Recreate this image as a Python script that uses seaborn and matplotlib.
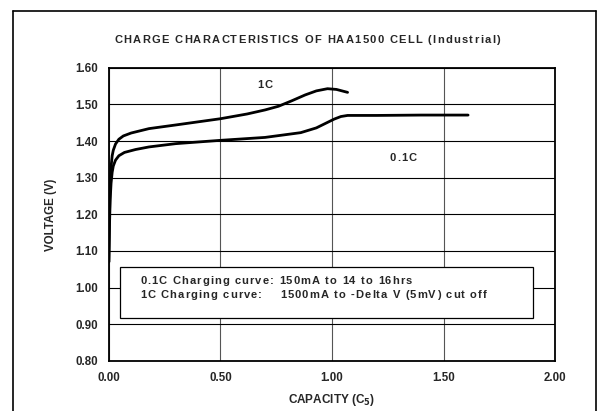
import pandas as pd
import matplotlib.pyplot as plt
import seaborn as sns
from matplotlib.lines import Line2D
from matplotlib.patches import Rectangle
from matplotlib.transforms import offset_copy

# ============ Dataset ============
cap_1c = [0.0, 0.003, 0.006, 0.01, 0.015, 0.02, 0.03, 0.045, 0.065, 0.10, 0.18, 0.30,
          0.50, 0.62, 0.70, 0.76, 0.82, 0.88, 0.93, 0.98, 1.02, 1.07]
volt_1c = [1.07, 1.20, 1.28, 1.33, 1.36, 1.375, 1.392, 1.405, 1.414, 1.422, 1.434, 1.444,
           1.461, 1.474, 1.485, 1.495, 1.510, 1.526, 1.537, 1.543, 1.541, 1.533]

cap_01c = [0.0, 0.003, 0.006, 0.01, 0.015, 0.02, 0.03, 0.045, 0.07, 0.12, 0.18, 0.30,
           0.50, 0.70, 0.86, 0.93, 0.97, 1.01, 1.04, 1.07, 1.20, 1.40, 1.61]
volt_01c = [1.07, 1.17, 1.24, 1.285, 1.315, 1.332, 1.348, 1.360, 1.369, 1.377, 1.384, 1.393,
            1.402, 1.410, 1.423, 1.436, 1.448, 1.460, 1.467, 1.470, 1.470, 1.471, 1.471]

rate_labels = ['1C', '0.1C']
note_lines = ['0.1C Charging curve: 150mA to 14 to 16hrs',
              '1C Charging curve:    1500mA to -Delta V (5mV) cut off']
title = 'CHARGE CHARACTERISTICS OF HAA1500 CELL (Industrial)'

curves = pd.concat([
    pd.DataFrame({'Capacity': cap_1c, 'Voltage': volt_1c, 'Rate': rate_labels[0]}),
    pd.DataFrame({'Capacity': cap_01c, 'Voltage': volt_01c, 'Rate': rate_labels[1]}),
])

# ============ Style ============
sns.set_style('white')
plt.rcParams['font.family'] = ['Liberation Sans', 'DejaVu Sans']
plt.rcParams['font.weight'] = 'bold'

fig = plt.figure(figsize=(6.08, 4.11), dpi=100)
ax = fig.add_axes([0.179, 0.122, 0.734, 0.713])
renderer = fig.canvas.get_renderer()


def char_width(ch, size):
    t1 = fig.text(0, 0, '|' + ch + '|', fontsize=size, fontweight='bold')
    t2 = fig.text(0, 0, '||', fontsize=size, fontweight='bold')
    w = t1.get_window_extent(renderer).width - t2.get_window_extent(renderer).width
    t1.remove()
    t2.remove()
    return w


# letter-spaced text, like the original chart's wide bold type
def spaced_text(x, y, s, transform, size=8.0, track=1.2, ha='left'):
    widths = [char_width(ch, size) for ch in s]
    total = sum(widths) + track * (len(s) - 1)
    start = {'left': 0, 'center': -total / 2, 'right': -total}[ha]
    pos = start
    for ch, w in zip(s, widths):
        if ch != ' ':
            fig.text(x, y, ch, fontsize=size, fontweight='bold', va='center', ha='left',
                     transform=offset_copy(transform, fig=fig, x=pos, y=0, units='dots'))
        pos += w + track


sns.lineplot(data=curves, x='Capacity', y='Voltage', hue='Rate', units='Rate',
             estimator=None, sort=False, palette=['black', 'black'],
             linewidth=2.0, legend=False, ax=ax)

ax.set_xlim(0, 2.0)
ax.set_ylim(0.80, 1.60)
ax.set_xticks([0, 0.5, 1.0, 1.5, 2.0])
ax.set_yticks([0.8, 0.9, 1.0, 1.1, 1.2, 1.3, 1.4, 1.5, 1.6])
ax.xaxis.set_major_formatter(plt.FormatStrFormatter('%.2f'))
ax.yaxis.set_major_formatter(plt.FormatStrFormatter('%.2f'))
ax.tick_params(labelsize=8.3, length=0, pad=8)
for lbl in ax.get_xticklabels() + ax.get_yticklabels():
    lbl.set_fontweight('bold')

ax.grid(True, axis='y', color='black', linewidth=0.8)
ax.grid(True, axis='x', color='#555555', linewidth=0.8)
for sp in ax.spines.values():
    sp.set_visible(True)
    sp.set_color('black')
    sp.set_linewidth(1.3)

ax.set_xlabel('CAPACITY (C$_{5}$)', fontsize=8.5, fontweight='bold', labelpad=6)
ax.set_ylabel('VOLTAGE (V)', fontsize=8.3, fontweight='bold', labelpad=13)

# ============ Annotations ============
spaced_text(0.70, 1.553, rate_labels[0], ax.transData, ha='center')
spaced_text(1.32, 1.355, rate_labels[1], ax.transData, ha='center')

ax.add_patch(Rectangle((0.05, 0.918), 1.85, 0.137, facecolor='white',
                       edgecolor='black', linewidth=0.9, zorder=3))
spaced_text(0.14, 1.018, note_lines[0], ax.transData, track=1.1)
spaced_text(0.14, 0.979, note_lines[1], ax.transData, track=1.1)

spaced_text(0.505, 0.903, title, fig.transFigure, track=1.3, ha='center')

# ============ Outer frame ============
for xs, ys in [([13/608, 13/608], [0, 1 - 11/411]),
               ([13/608, 596/608], [1 - 11/411, 1 - 11/411]),
               ([596/608, 596/608], [1 - 11/411, 0])]:
    fig.add_artist(Line2D(xs, ys, color='black', linewidth=1.2, transform=fig.transFigure))

fig.savefig('out.png', dpi=100)
